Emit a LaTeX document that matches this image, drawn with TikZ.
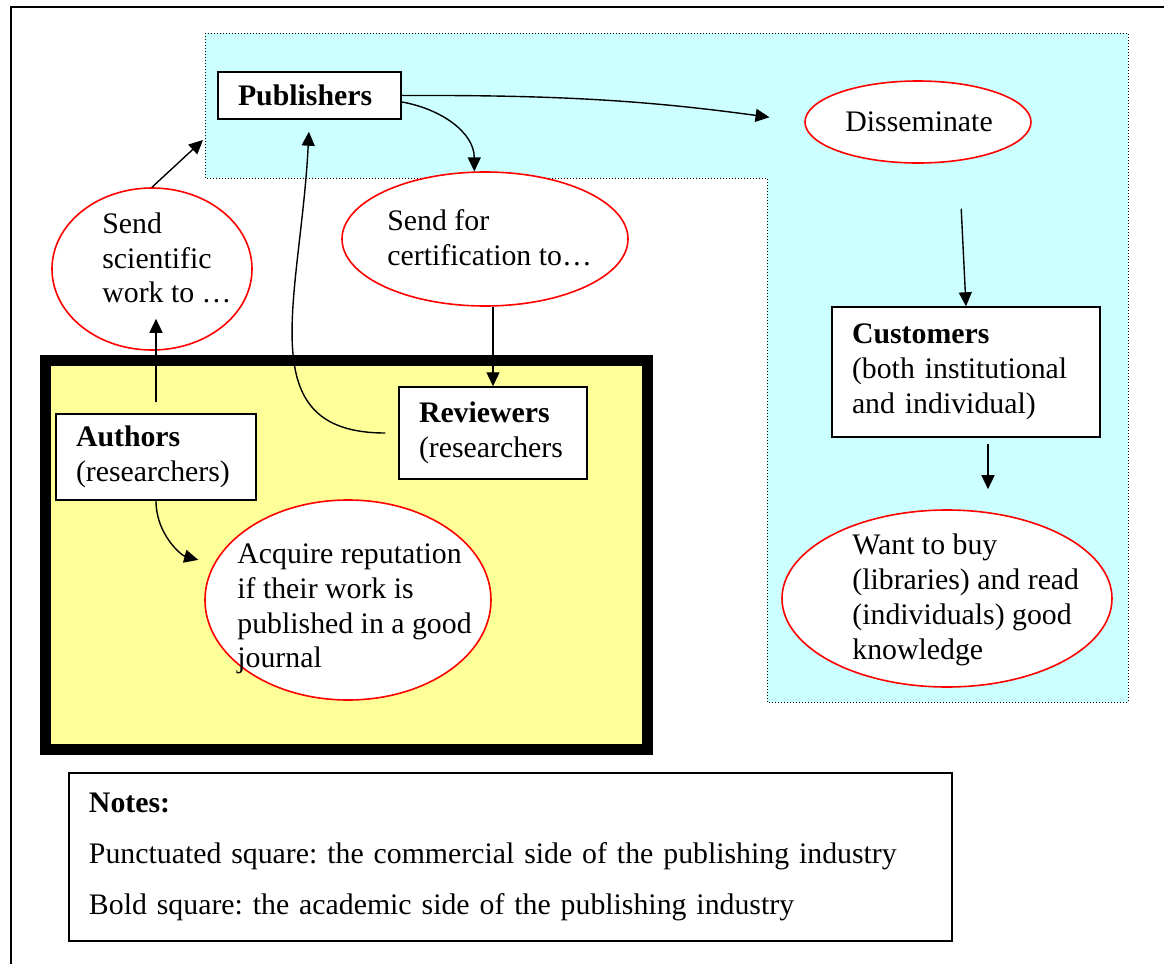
\documentclass[tikz,border=0pt]{standalone}
\usepackage{fontspec}
\setmainfont{Liberation Serif}
\frenchspacing
\usetikzlibrary{arrows.meta,shapes.geometric}
\definecolor{commercial}{HTML}{CCFFFF}
\definecolor{academic}{HTML}{FFFF99}
\tikzset{
  actor/.style={draw, rectangle, line width=0.75pt, fill=white, align=left, inner xsep=10pt, inner ysep=0pt},
  bubble/.style={draw=red, ellipse, line width=0.8pt, fill=white, inner sep=0pt},
  bubbletext/.style={align=left, inner sep=0pt, anchor=west},
  flow/.style={-{Triangle[length=7pt,width=6.5pt]}, line width=0.7pt},
  commercialside/.style={fill=commercial, draw, line width=0.5pt, dash pattern=on 0.5pt off 1pt},
  academicside/.style={fill=academic, draw, line width=5.5pt}
}
\begin{document}
\begin{tikzpicture}[x=0.5pt, y=-0.5pt, font=\fontsize{14.9}{17.4}\selectfont]
        \useasboundingbox (0,0) rectangle (1164,964);
        \draw[line width=1pt] (11,964) -- (11,7) -- (1164,7);

        % Commercial and academic sides
        \draw[commercialside] (205,33) -- (1128,33) -- (1128,702) -- (767,702) -- (767,178) -- (205,178) -- cycle;
        \draw[academicside] (45.5,360) rectangle (647.5,749.5);

        % Actors
        \node[actor, text width=71.5pt, minimum height=23.5pt] (pub) at (309.5,95.5) {\textbf{Publishers}};
        \node[actor, text width=74pt, minimum height=46pt] (rev) at (493,433) {\textbf{Reviewers}\\(researchers};
        \node[actor, text width=80pt, minimum height=43pt] (auth) at (156,457) {\textbf{Authors}\\(researchers)};
        \node[actor, text width=114pt, minimum height=65pt] (cust) at (966,372) {\textbf{Customers}\\(both institutional\\and individual)};

        % Activities
        \node[bubble, minimum width=100pt, minimum height=81pt] (sendwork) at (152,269) {};
        \node[bubbletext] (sendwork-txt) at (102,258) {Send\\scientific\\work to …};
        \node[bubble, minimum width=143pt, minimum height=67pt] (cert) at (485,239) {};
        \node[bubbletext] (cert-txt) at (387,237.5) {Send for\\certification to…};
        \node[bubble, minimum width=113pt, minimum height=41pt] (dissem) at (918,122) {};
        \node[bubbletext] (dissem-txt) at (845,122) {Disseminate};
        \node[bubble, minimum width=143pt, minimum height=100pt] (acquire) at (348,600) {};
        \node[bubbletext] (acquire-txt) at (237,609) {Acquire reputation\\if their work is\\published in a good\\journal};
        \node[bubble, minimum width=165pt, minimum height=88.5pt] (want) at (947,598.5) {};
        \node[bubbletext] (want-txt) at (852,600) {Want to buy\\(libraries) and read\\(individuals) good\\knowledge};

        % Notes
        \node[actor, text width=421.5pt, minimum height=84pt, line width=1pt] (notes) at (510.5,857) {\textbf{Notes:}\\[8.1pt]Punctuated square: the commercial side of the publishing industry\\[8.1pt]Bold square: the academic side of the publishing industry};

        % Flows
        \coordinate (pubin) at (203,140);
        \draw[flow] (sendwork.north) -- (pubin);
        \draw[flow, shorten <=5.5pt, shorten >=-16pt] (auth.north) -- (auth.north |- sendwork.south);
        \draw[flow, shorten >=8pt] (auth.south) to[out=-90, in=165] (acquire.165);
        \draw[flow, shorten <=6.5pt, shorten >=6pt] (rev.west) .. controls +(-150,0) and +(-9,180) .. (pub.south);
        \draw[flow, shorten >=17.5pt] (pub.east) to[bend left=4] (dissem.west);
        \draw[flow] (pub.-4) to[out=-10, in=90] (cert.99);
        \draw[flow] (cert.south -| rev.north) -- (rev.north);
        \draw[flow, shorten <=22.5pt] ([xshift=20.5pt]dissem.south) -- (cust.north);
        \draw[flow, shorten <=3pt, shorten >=10pt] ([xshift=11pt]cust.south) -- ([xshift=11pt]cust.south |- want.north);
    \end{tikzpicture}
\end{document}
